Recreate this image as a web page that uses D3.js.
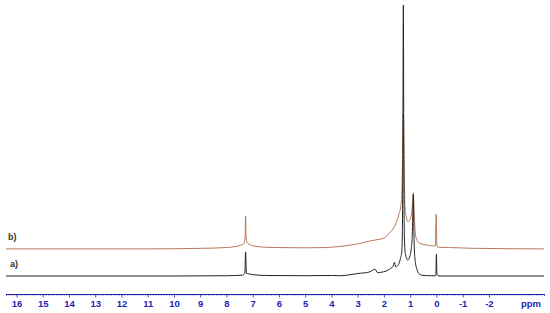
<!DOCTYPE html>
<html>
<head>
<meta charset="utf-8">
<script src="https://cdn.jsdelivr.net/npm/d3@7"></script>
<style>
  body { margin: 0; background: #fff; }
  svg { display: block; }
</style>
</head>
<body>
<div id="chart"></div>
<script>
// spectrum a) (black), points as [ppm, intensity]
const traceA = [
  [16.4, 0], [10, 0], [8, 0.1], [7.4, 0.3], [7.3, 1], [7.27, 8.9], [7.24, 1],
  [7.15, 0.8], [7.0, 0.5], [6.5, 0.2], [5, 0.1], [4, 0.2], [3.7, 0.1],
  [3.0, 0.9], [2.55, 1.5], [2.4, 2.3], [2.34, 2.5], [2.24, 1.2], [2.1, 1.4],
  [1.92, 1.8], [1.75, 2.8], [1.66, 3.4], [1.6, 5.0], [1.55, 3.4], [1.44, 4.3],
  [1.37, 6.5], [1.32, 9], [1.3, 14], [1.28, 40], [1.26, 100], [1.24, 40],
  [1.22, 14], [1.18, 8], [1.09, 5.9], [1.02, 7], [0.96, 10], [0.92, 15],
  [0.9, 22], [0.88, 30], [0.86, 18], [0.84, 10], [0.8, 5], [0.75, 2.8],
  [0.68, 1], [0.55, 0.3], [0.2, 0.1], [0.04, 0.1], [0.02, 0.5], [0.0, 8.0],
  [-0.02, 0.5], [-0.1, 0], [-4.1, 0]
];

// spectrum b) (brown)
const traceB = [
  [16.4, 0], [14, 0], [11, 0], [9.0, 0.2], [8.0, 0.5], [7.6, 1.0],
  [7.35, 1.8], [7.29, 4], [7.27, 12.2], [7.25, 4], [7.18, 2.0], [7.0, 1.2],
  [6.5, 0.6], [6.1, 0.5], [5.0, 0.4], [4.2, 0.5], [3.7, 0.9], [3.2, 1.5],
  [2.8, 2.3], [2.5, 3.0], [2.2, 3.5], [2.0, 4.0], [1.79, 5.8], [1.66, 7.3],
  [1.5, 10.5], [1.41, 13.5], [1.36, 15.5], [1.32, 20], [1.29, 33],
  [1.26, 50], [1.23, 33], [1.2, 16], [1.15, 12], [1.09, 10], [1.0, 11],
  [0.94, 13.5], [0.91, 17], [0.88, 20.7], [0.85, 14], [0.82, 8],
  [0.77, 3.9], [0.65, 2.2], [0.52, 1.7], [0.3, 1.3], [0.14, 1.1],
  [0.04, 1.2], [0.01, 12.8], [-0.02, 1.0], [-0.1, 0.6], [-0.5, 0.5],
  [-1.5, 0.2], [-4.1, 0]
];

const traceOffsets = { a: 0, b: 10 };
const traceLabels = ["a)", "b)"];
const tickLabels = [16, 15, 14, 13, 12, 11, 10, 9, 8, 7, 6, 5, 4, 3, 2, 1, 0, -1, -2];
const unitLabel = "ppm";

const svg = d3.select("#chart")
  .append("svg")
    .attr("width", 550)
    .attr("height", 313);

const x = d3.scaleLinear()
  .domain([16.4, -4.1])
  .range([6, 544]);

const y = d3.scaleLinear()
  .domain([0, 100])
  .range([276, 5]);

const line = d3.line()
  .x(d => x(d[0]))
  .curve(d3.curveMonotoneX);

// b) first, then a) over it
svg.append("path")
  .datum(traceB)
  .attr("d", line.y(d => y(d[1] + traceOffsets.b)))
  .attr("fill", "none")
  .attr("stroke", "#b8785a")
  .attr("stroke-width", 1);

svg.append("path")
  .datum(traceA)
  .attr("d", line.y(d => y(d[1] + traceOffsets.a)))
  .attr("fill", "none")
  .attr("stroke", "#222")
  .attr("stroke-width", 1);

svg.append("text")
  .attr("x", 8)
  .attr("y", y(traceOffsets.b) - 9)
  .attr("font-family", "Arial, 'Liberation Sans', sans-serif")
  .attr("font-size", 9)
  .attr("font-weight", "bold")
  .attr("fill", "#333")
  .text(traceLabels[1]);

svg.append("text")
  .attr("x", 10)
  .attr("y", y(traceOffsets.a) - 9)
  .attr("font-family", "Arial, 'Liberation Sans', sans-serif")
  .attr("font-size", 9)
  .attr("font-weight", "bold")
  .attr("fill", "#333")
  .text(traceLabels[0]);

// axis: minor ticks every 0.1 ppm, major ticks with labels
const axisY = 294;
const blue = "#2424b4";

const minor = svg.append("g")
  .attr("transform", `translate(0, ${axisY})`)
  .call(d3.axisBottom(x)
    .tickValues(d3.range(-41, 165).map(v => v / 10))
    .tickSize(1.5)
    .tickFormat(""));

const major = svg.append("g")
  .attr("transform", `translate(0, ${axisY})`)
  .call(d3.axisBottom(x)
    .tickValues(tickLabels)
    .tickSize(3.5)
    .tickPadding(3)
    .tickFormat(d => d));

svg.selectAll(".domain")
  .attr("stroke", blue)
  .attr("stroke-width", 1);
svg.selectAll(".tick line")
  .attr("stroke", blue)
  .attr("stroke-width", 0.8);
major.select(".domain").remove();
major.selectAll("text")
  .attr("fill", blue)
  .attr("font-family", "Arial, 'Liberation Sans', sans-serif")
  .attr("font-size", 9.5)
  .attr("font-weight", "bold");

svg.append("text")
  .attr("x", 531)
  .attr("y", 307)
  .attr("text-anchor", "middle")
  .attr("font-family", "Arial, 'Liberation Sans', sans-serif")
  .attr("font-size", 9.5)
  .attr("font-weight", "bold")
  .attr("fill", blue)
  .text(unitLabel);
</script>
</body>
</html>
